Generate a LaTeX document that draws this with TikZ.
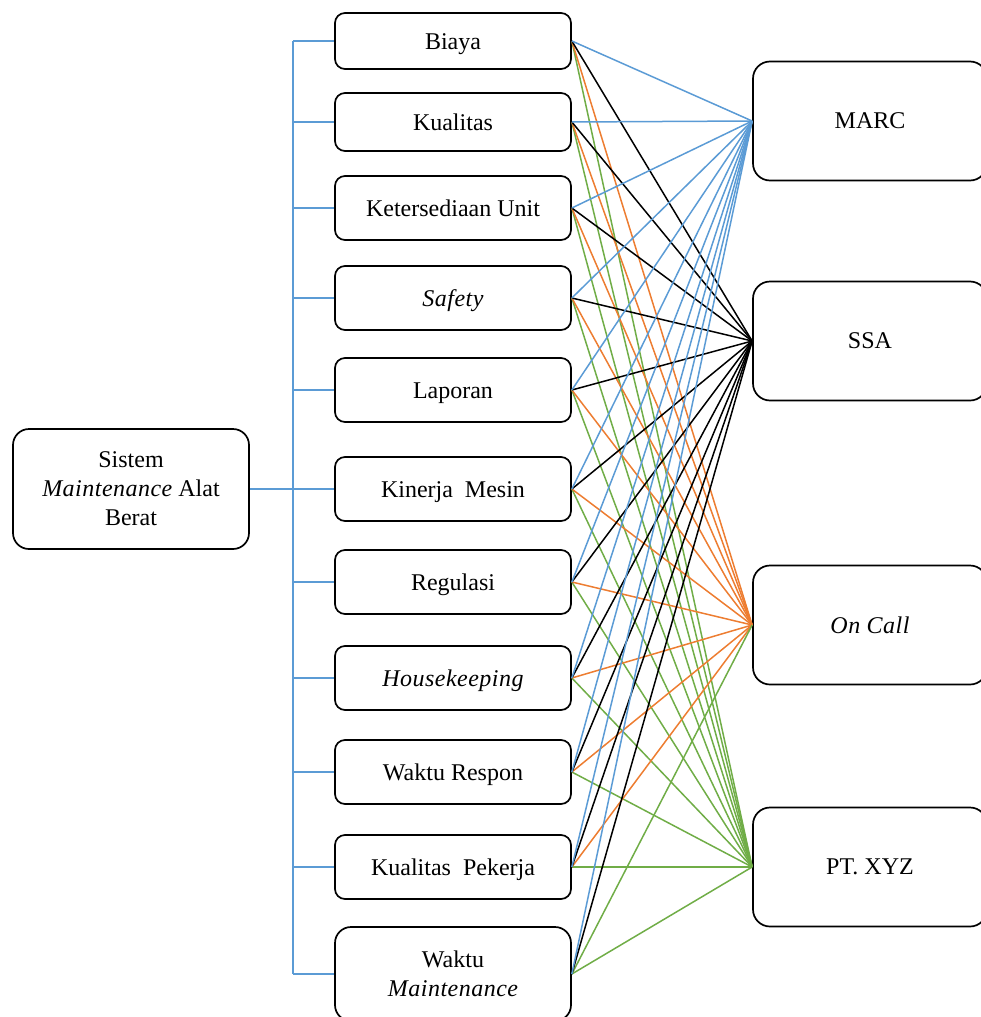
\documentclass[tikz,border=0pt]{standalone}
\usepackage{fontspec}
\setmainfont{Liberation Serif}
\newfontfamily\spit[LetterSpace=2]{Liberation Serif}
\newcommand{\ital}[1]{{\spit\itshape #1}}
\definecolor{cblue}{RGB}{91,155,213}
\definecolor{corange}{RGB}{237,125,49}
\definecolor{cgreen}{RGB}{112,173,71}
\begin{document}
\begin{tikzpicture}[x=1pt,y=-1pt,
  box/.style={draw=black, line width=1.7pt, rounded corners=10pt, minimum width=236pt, align=center, font=\fontsize{24}{29}\selectfont, inner sep=0pt},
  one/.style={text height=21pt, text depth=4pt},
  altbox/.style={draw=black, line width=1.7pt, rounded corners=17pt, minimum width=234pt, minimum height=119pt, align=center, font=\fontsize{24}{29}\selectfont, inner sep=0pt},
  tree/.style={draw=cblue, line width=1.8pt},
  lk/.style={line width=1.5pt}
]
\useasboundingbox (0,0) rectangle (980,1017);
% root
\node[box, minimum height=120pt, rounded corners=16pt] (root) at (131,489) {Sistem\\ \ital{Maintenance} Alat\\ Berat};
% criteria
\node[box, one, minimum height=56pt] (c1) at (453,41) {Biaya};
\node[box, one, minimum height=58pt] (c2) at (453,122) {Kualitas};
\node[box, one, minimum height=64pt] (c3) at (453,208) {Ketersediaan Unit};
\node[box, one, minimum height=64pt] (c4) at (453,298) {\ital{Safety}};
\node[box, one, minimum height=64pt] (c5) at (453,390) {Laporan};
\node[box, one, minimum height=64pt] (c6) at (453,489) {Kinerja\ \ Mesin};
\node[box, one, minimum height=64pt] (c7) at (453,582) {Regulasi};
\node[box, one, minimum height=64pt] (c8) at (453,678) {\ital{Housekeeping}};
\node[box, one, minimum height=64pt] (c9) at (453,772) {Waktu Respon};
\node[box, one, minimum height=64pt] (c10) at (453,867) {Kualitas\ \ Pekerja};
\node[box, minimum height=94pt, rounded corners=16pt] (c11) at (453,974) {Waktu\\ \ital{Maintenance}};
% alternatives
\node[altbox] (a1) at (870,121) {MARC};
\node[altbox] (a2) at (870,341) {SSA};
\node[altbox] (a3) at (870,625) {\ital{On Call}};
\node[altbox] (a4) at (870,867) {PT. XYZ};
% tree
\coordinate (ttop) at (293,41);
\coordinate (tbot) at (293,974);
\draw[tree] (ttop) -- (tbot);
\draw[tree] (root.east) -- (root.east -| ttop);
\foreach \i in {1,...,11} {
  \draw[tree] (c\i.west -| ttop) -- (c\i.west);
}
% connectors
\foreach \i in {1,...,11} {
  \draw[lk, cgreen] (c\i.east) -- (a4.west);
}
\foreach \i in {1,...,10} {
  \draw[lk, corange] (c\i.east) -- (a3.west);
}
\draw[lk, cgreen] (c11.east) -- (a3.west);
\foreach \i in {1,...,11} {
  \draw[lk, black] (c\i.east) -- (a2.west);
}
\foreach \i in {1,...,11} {
  \draw[lk, cblue] (c\i.east) -- (a1.west);
}
\end{tikzpicture}
\end{document}
